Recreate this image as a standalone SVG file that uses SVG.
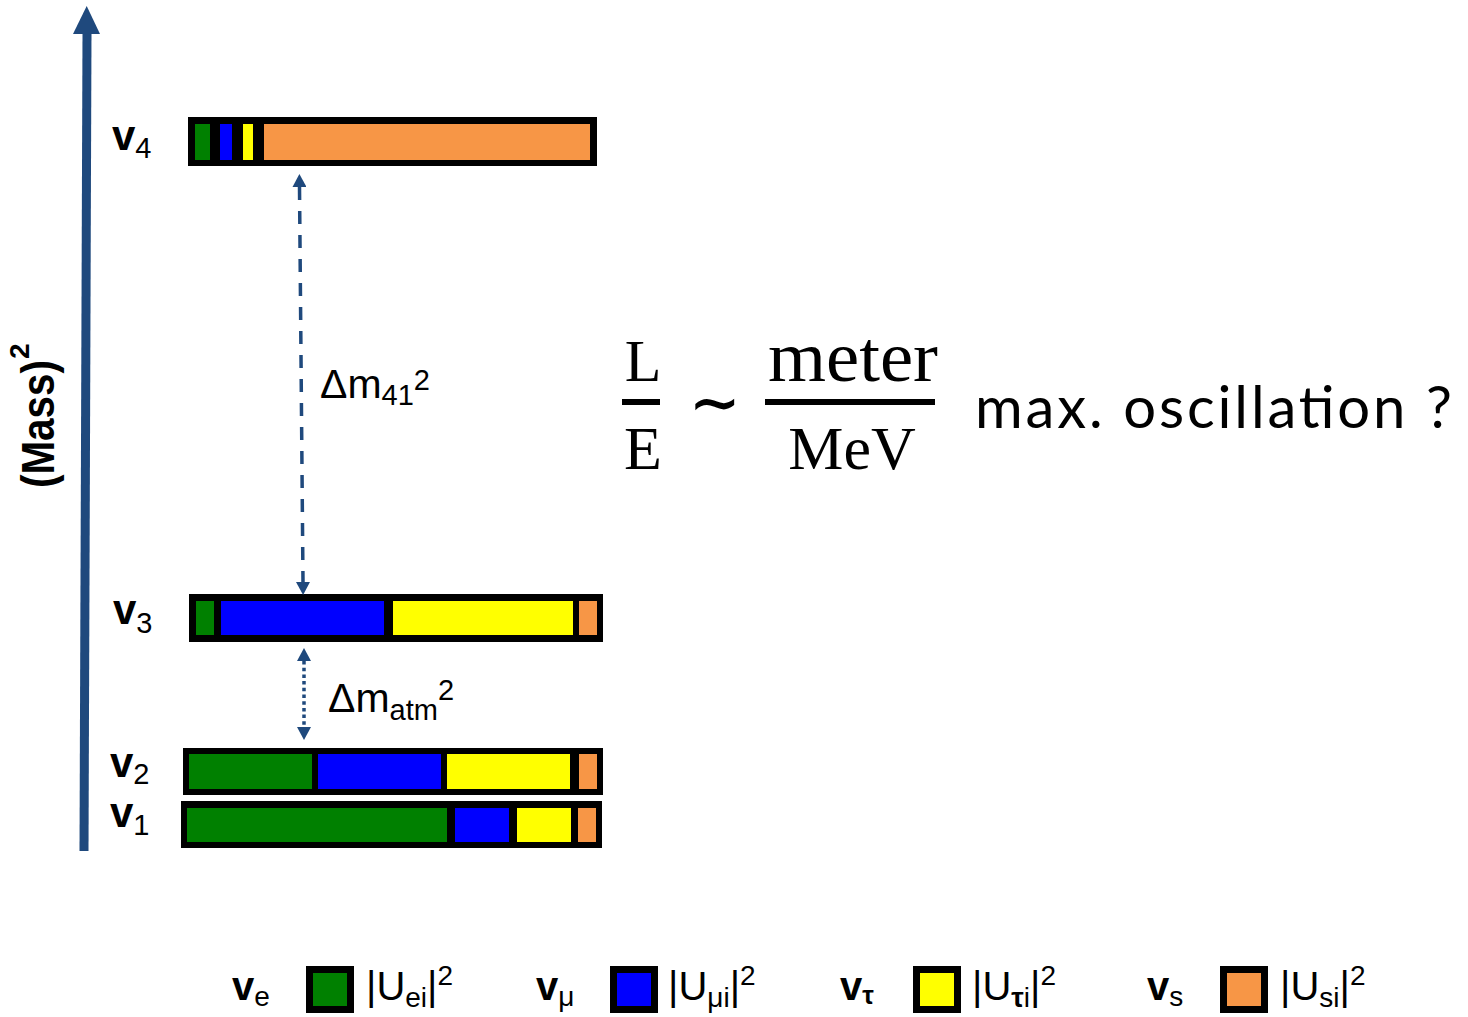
<svg xmlns="http://www.w3.org/2000/svg" width="1468" height="1017" viewBox="0 0 1468 1017">
<style>
.sans{font-family:"Liberation Sans",Arial,sans-serif;fill:#000}
.vl{font-family:"Liberation Sans",Arial,sans-serif;font-weight:bold;font-size:42px;fill:#000}
.vsub{font-weight:normal;font-size:29px}
.lab{font-family:"Liberation Sans",Arial,sans-serif;font-size:41px;fill:#000}
.serif{font-family:"Liberation Serif","Times New Roman",serif;fill:#000}
.frame{fill:#000}
.g{fill:#008000}.b{fill:#0000FF}.y{fill:#FFFF00}.o{fill:#F79646}
.sq{stroke:#000;stroke-width:7}
.conn{fill:none;stroke:#1F497D;stroke-width:3.5}
.lg{font-family:"Liberation Sans",Arial,sans-serif;font-size:40px;fill:#000}
.lgv{font-family:"Liberation Sans",Arial,sans-serif;font-size:40px;font-weight:bold;fill:#000}
</style>
<defs>
<marker id="head" viewBox="0 0 13 14" refX="0" refY="7" markerWidth="13" markerHeight="14" markerUnits="userSpaceOnUse" orient="auto-start-reverse">
<path d="M0,0 L13,7 L0,14 Z" fill="#1F497D"/>
</marker>
</defs>

<g id="axis">
<line x1="84" y1="851" x2="87" y2="33" stroke="#1F497D" stroke-width="9"/>
<polygon points="73,34 100,34 86.7,6" fill="#1F497D"/>
<g transform="translate(54,488) rotate(-90)">
<text class="sans" x="0" y="0" font-size="46" font-weight="bold" textLength="128" lengthAdjust="spacingAndGlyphs">(Mass)</text>
<text class="sans" x="129" y="-25" font-size="28" font-weight="bold">2</text>
</g>
</g>

<g id="nu4">
<rect class="frame" x="188" y="117" width="409" height="49"/>
<rect class="g" x="195" y="124" width="15" height="36"/>
<rect class="b" x="220" y="124" width="12" height="36"/>
<rect class="y" x="243" y="124" width="10" height="36"/>
<rect class="o" x="264" y="124" width="326" height="36"/>
<text class="vl" x="112" y="150">v<tspan class="vsub" dy="8">4</tspan></text>
</g>

<g id="nu3">
<rect class="frame" x="189" y="594" width="414" height="48"/>
<rect class="g" x="196" y="601" width="18" height="34"/>
<rect class="b" x="221" y="601" width="163" height="34"/>
<rect class="y" x="393" y="601" width="180" height="34"/>
<rect class="o" x="579" y="601" width="18" height="34"/>
<text class="vl" x="113" y="624">v<tspan class="vsub" dy="9">3</tspan></text>
</g>

<g id="nu2">
<rect class="frame" x="183" y="748" width="420" height="47"/>
<rect class="g" x="189" y="754" width="123" height="35"/>
<rect class="b" x="318" y="754" width="123" height="35"/>
<rect class="y" x="447" y="754" width="123" height="35"/>
<rect class="o" x="579" y="754" width="18" height="35"/>
<text class="vl" x="110" y="777">v<tspan class="vsub" dy="7">2</tspan></text>
</g>

<g id="nu1">
<rect class="frame" x="181" y="801" width="421" height="47"/>
<rect class="g" x="187" y="808" width="260" height="34"/>
<rect class="b" x="455" y="808" width="54" height="34"/>
<rect class="y" x="517" y="808" width="54" height="34"/>
<rect class="o" x="578" y="808" width="18" height="34"/>
<text class="vl" x="110" y="827">v<tspan class="vsub" dy="8">1</tspan></text>
</g>

<g id="connectors">
<path class="conn" d="M299.5,187 L303,582" stroke-dasharray="13 11" marker-start="url(#head)" marker-end="url(#head)"/>
<path class="conn" d="M304,661 L304,727" stroke-dasharray="3.5 3.2" marker-start="url(#head)" marker-end="url(#head)"/>
</g>

<g id="dm41">
<text class="lab" x="320" y="398">Δm<tspan font-size="29" dy="7">41</tspan><tspan font-size="29" dy="-15">2</tspan></text>
</g>
<g id="dmatm">
<text class="lab" x="328" y="712">Δm<tspan font-size="29" dy="8">atm</tspan><tspan font-size="29" dy="-20">2</tspan></text>
</g>

<g id="formula">
<text class="serif" x="643" y="381" font-size="60" text-anchor="middle">L</text>
<rect x="622" y="399" width="38" height="6" fill="#000"/>
<text class="serif" x="643" y="469" font-size="62" text-anchor="middle">E</text>
<text x="689" y="424" font-family="DejaVu Serif,serif" font-size="62" font-weight="bold" fill="#000">∼</text>
<text class="serif" x="768" y="381" font-size="72" textLength="170" lengthAdjust="spacingAndGlyphs">meter</text>
<rect x="765" y="399" width="170" height="6" fill="#000"/>
<text class="serif" x="852" y="469" font-size="62" text-anchor="middle">MeV</text>
<text x="975" y="428" font-family="Lato,'Liberation Sans',sans-serif" font-size="58" fill="#000" textLength="477">max. oscillation ?</text>
</g>

<g id="legend-e">
<text class="lgv" x="232" y="1000">v<tspan font-weight="normal" font-size="28" dy="6">e</tspan></text>
<rect class="sq g" x="309.5" y="969.5" width="41" height="40"/>
<text class="lg" x="366" y="1000">|U<tspan font-size="28" dy="7">ei</tspan><tspan dy="-7">|</tspan><tspan font-size="28" dy="-15">2</tspan></text>
</g>
<g id="legend-mu">
<text class="lgv" x="536" y="1000">v<tspan font-weight="normal" font-size="28" dy="6">μ</tspan></text>
<rect class="sq b" x="613.5" y="969.5" width="41" height="40"/>
<text class="lg" x="668" y="1000">|U<tspan font-size="28" dy="7">μi</tspan><tspan dy="-7">|</tspan><tspan font-size="28" dy="-15">2</tspan></text>
</g>
<g id="legend-tau">
<text class="lgv" x="840" y="1000">v<tspan font-size="26" dy="4">τ</tspan></text>
<rect class="sq y" x="916.5" y="969.5" width="41" height="40"/>
<text class="lg" x="972" y="1000">|U<tspan font-size="28" dy="7" font-weight="bold">τ</tspan><tspan font-size="28">i</tspan><tspan dy="-7">|</tspan><tspan font-size="28" dy="-15">2</tspan></text>
</g>
<g id="legend-s">
<text class="lgv" x="1147" y="1000">v<tspan font-weight="normal" font-size="28" dy="6">s</tspan></text>
<rect class="sq o" x="1223.5" y="969.5" width="41" height="40"/>
<text class="lg" x="1280" y="1000">|U<tspan font-size="28" dy="7">si</tspan><tspan dy="-7">|</tspan><tspan font-size="28" dy="-15">2</tspan></text>
</g>
</svg>
